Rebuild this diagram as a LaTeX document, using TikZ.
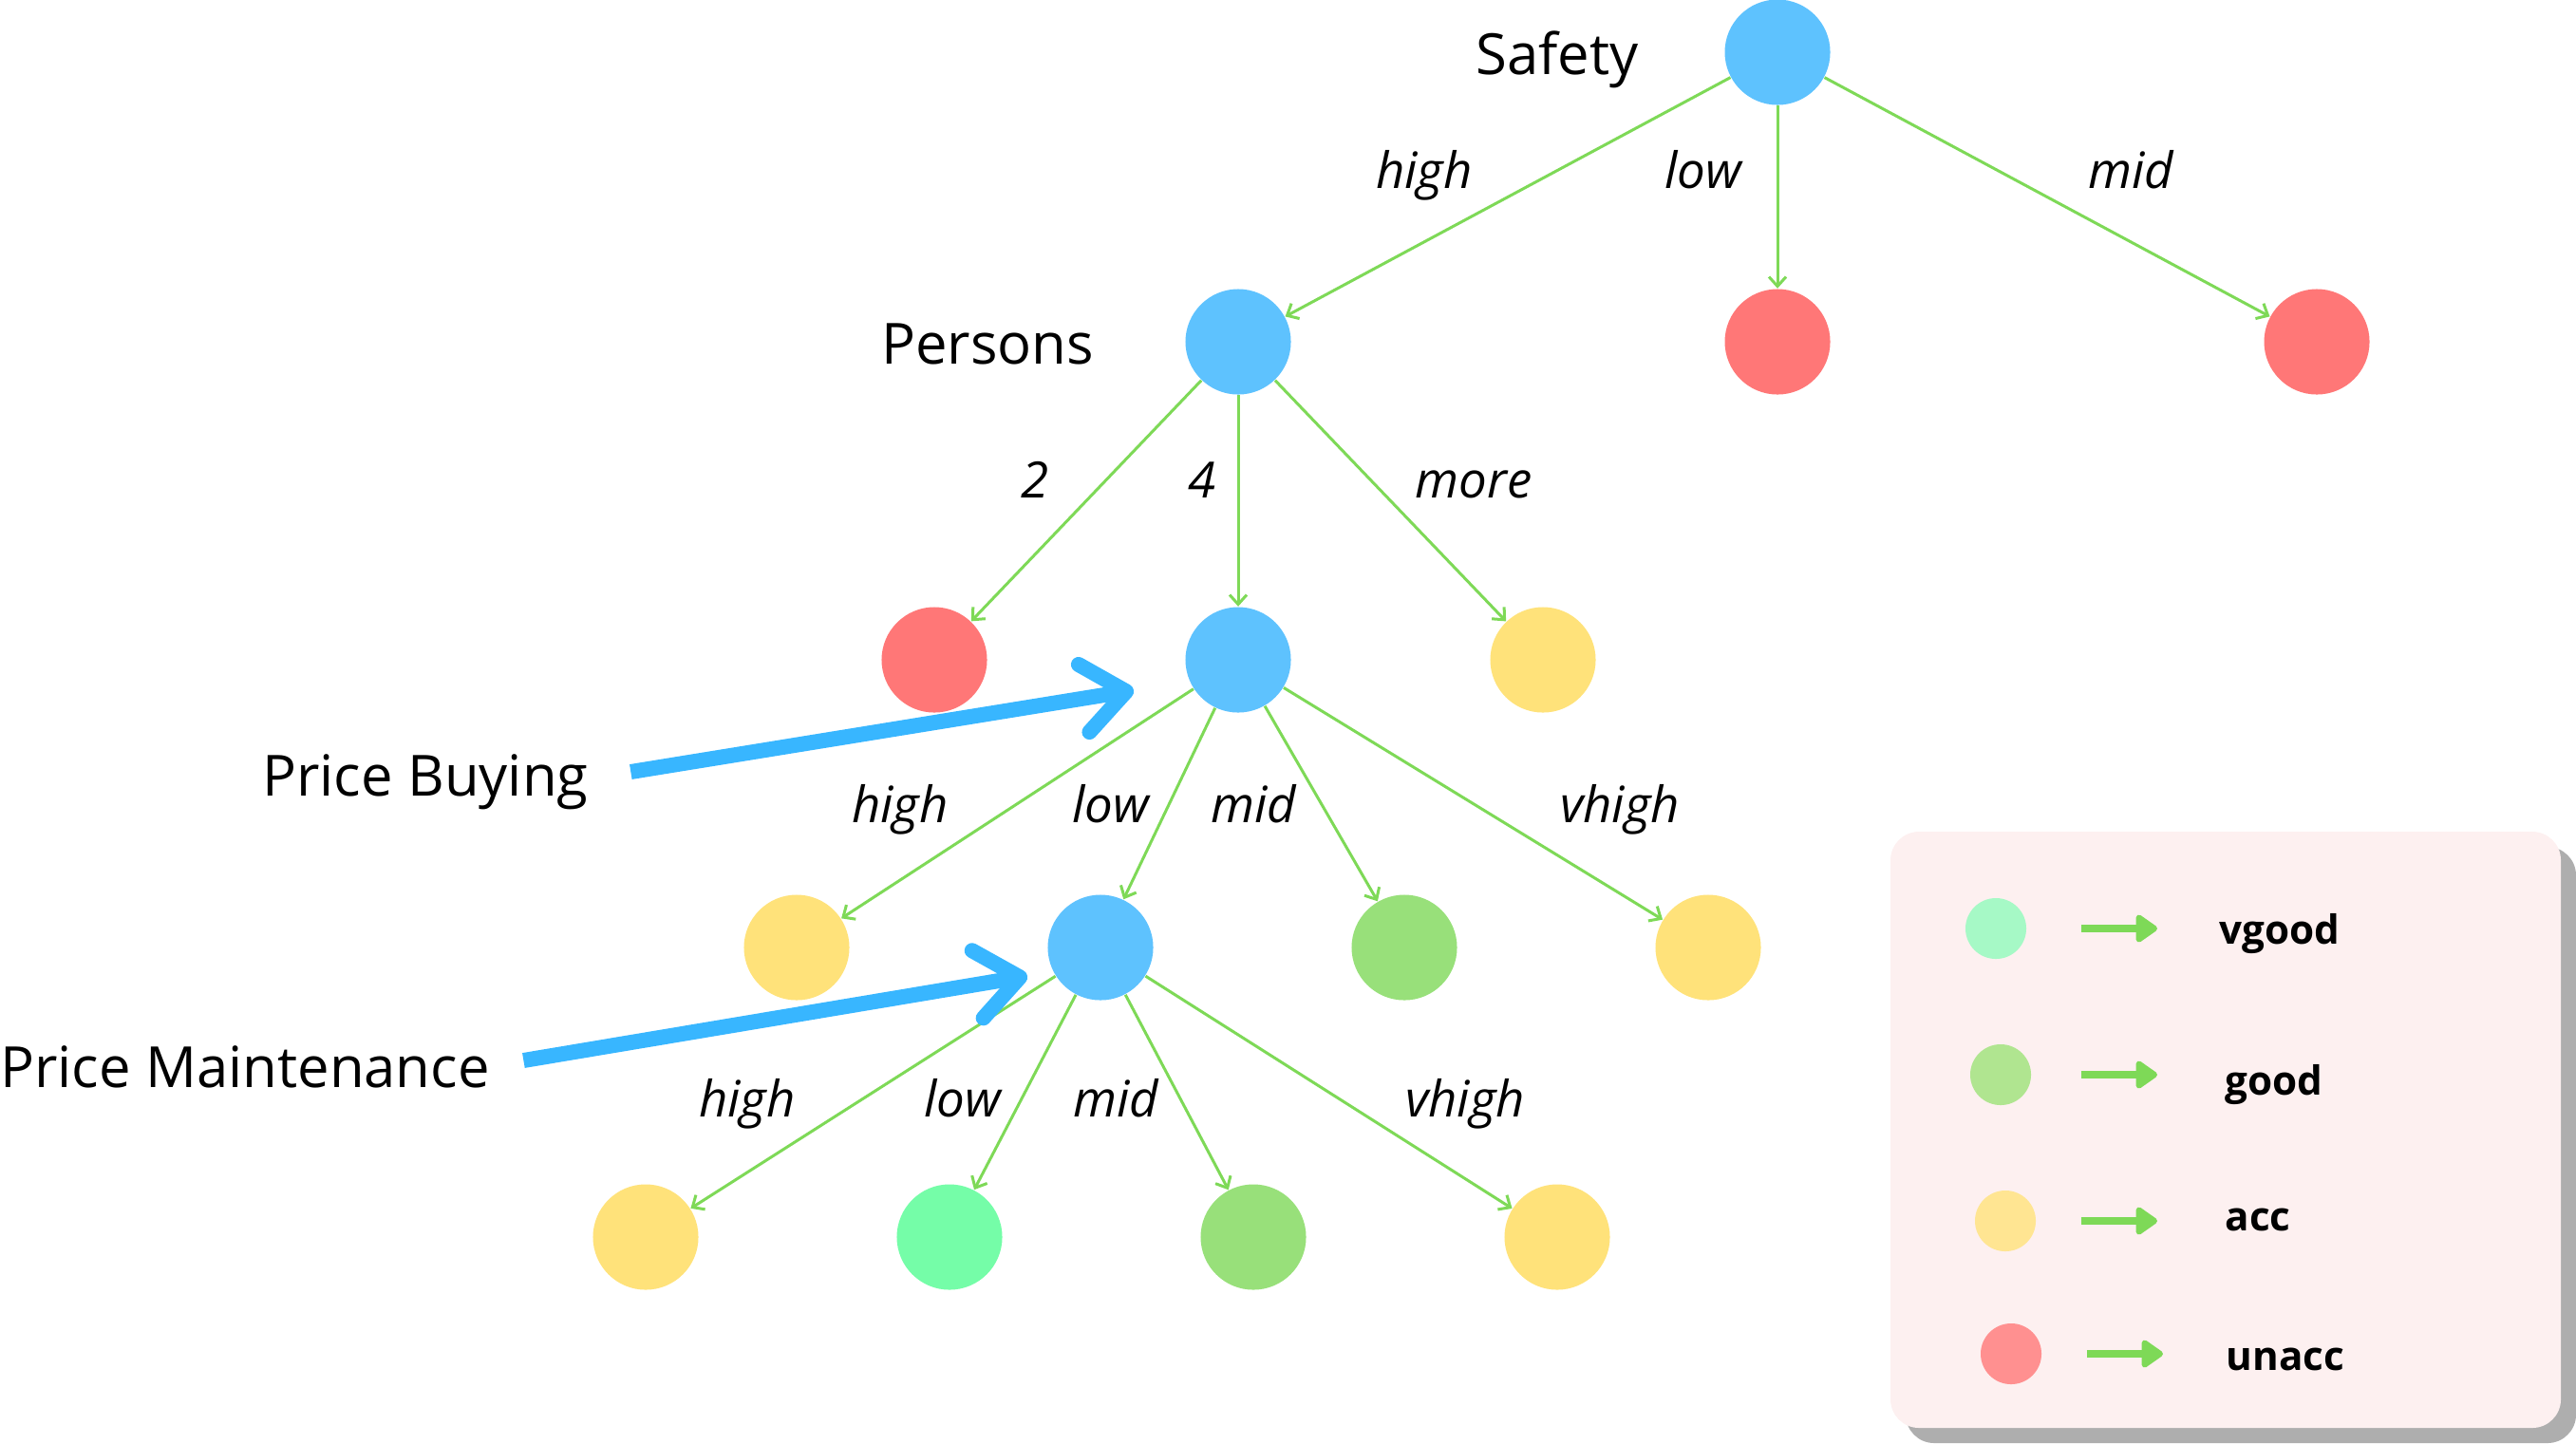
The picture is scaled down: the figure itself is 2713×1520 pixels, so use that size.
\documentclass[tikz,border=0pt]{standalone}
\usepackage{fontspec}
\setmainfont{Open Sans}
\usetikzlibrary{arrows.meta}

\definecolor{splitblue}{HTML}{5EC2FE}
\definecolor{unaccred}{HTML}{FF7777}
\definecolor{accyellow}{HTML}{FFE27A}
\definecolor{goodgreen}{HTML}{98E07A}
\definecolor{vgoodmint}{HTML}{75FDA8}
\definecolor{edgegreen}{HTML}{7ED957}
\definecolor{pointblue}{HTML}{38B6FF}
\definecolor{keyfill}{HTML}{FDF0F0}
\definecolor{keyshadow}{HTML}{AEAEAE}
\definecolor{keymint}{HTML}{A6F9C6}
\definecolor{keygreen}{HTML}{B0E590}
\definecolor{keyyellow}{HTML}{FFE592}
\definecolor{keyred}{HTML}{FF9090}

\begin{document}
\begin{tikzpicture}[x=0.01cm, y=-0.01cm,
    dot/.style={circle, minimum size=1.11cm, inner sep=0},
    branch/.style={draw=edgegreen, line width=0.03cm, -{Straight Barb[length=0.1cm, width=0.18cm]}},
    lbl/.style={anchor=base, font=\fontsize{15}{18}\selectfont\itshape},
    attr/.style={anchor=base, inner sep=0, font=\fontsize{17}{20}\selectfont},
    pointer/.style={draw=pointblue, line width=0.16cm, -{Straight Barb[length=0.45cm, width=0.72cm, round]}},
    keyarrow/.style={draw=edgegreen, line width=0.08cm, -{Triangle[length=0.25cm, width=0.33cm, round]}},
    keytext/.style={anchor=base west, inner sep=0, font=\fontsize{12}{14}\selectfont\bfseries}]
            \useasboundingbox (0,0) rectangle (2713,1520);

            % tree nodes
            \node[dot, fill=splitblue] (safety) at (1872, 55) {};
            \node[dot, fill=splitblue] (persons) at (1304, 360) {};
            \node[dot, fill=unaccred] (s-low) at (1872, 360) {};
            \node[dot, fill=unaccred] (s-mid) at (2440, 360) {};

            \node[dot, fill=unaccred] (p-two) at (984, 695) {};
            \node[dot, fill=splitblue] (buying) at (1304, 695) {};
            \node[dot, fill=accyellow] (p-more) at (1625, 695) {};

            \node[dot, fill=accyellow] (b-high) at (839, 998) {};
            \node[dot, fill=splitblue] (maint) at (1159, 998) {};
            \node[dot, fill=goodgreen] (b-mid) at (1479, 998) {};
            \node[dot, fill=accyellow] (b-vhigh) at (1799, 998) {};

            \node[dot, fill=accyellow] (m-high) at (680, 1303) {};
            \node[dot, fill=vgoodmint] (m-low) at (1000, 1303) {};
            \node[dot, fill=goodgreen] (m-mid) at (1320, 1303) {};
            \node[dot, fill=accyellow] (m-vhigh) at (1640, 1303) {};

            % attribute names
            \node[attr] (t-safety) at (1640, 78) {Safety};
            \node[attr] (t-persons) at (1040, 383) {Persons};
            \node[attr] (t-buying) at (448, 838) {Price Buying};
            \node[attr] (t-maint) at (258, 1145) {Price Maintenance};

            % branches
            \draw[branch] (safety) edge (persons);
            \draw[branch] (safety) edge (s-low);
            \draw[branch] (safety) edge (s-mid);
            \draw[branch] (persons) edge (p-two);
            \draw[branch] (persons) edge (buying);
            \draw[branch] (persons) edge (p-more);
            \draw[branch] (buying) edge (b-high);
            \draw[branch] (buying) edge (maint);
            \draw[branch] (buying) edge (b-mid);
            \draw[branch] (buying) edge (b-vhigh);
            \draw[branch] (maint) edge (m-high);
            \draw[branch] (maint) edge (m-low);
            \draw[branch] (maint) edge (m-mid);
            \draw[branch] (maint) edge (m-vhigh);

            % branch values
            \node[lbl] (l-s-high) at (1500, 198) {high};
            \node[lbl] (l-s-low) at (1794, 198) {low};
            \node[lbl] (l-s-mid) at (2244, 198) {mid};
            \node[lbl] (l-p-two) at (1090, 524) {2};
            \node[lbl] (l-p-four) at (1266, 524) {4};
            \node[lbl] (l-p-more) at (1552, 524) {more};
            \node[lbl] (l-b-high) at (948, 866) {high};
            \node[lbl] (l-b-low) at (1170, 866) {low};
            \node[lbl] (l-b-mid) at (1320, 866) {mid};
            \node[lbl] (l-b-vhigh) at (1706, 866) {vhigh};
            \node[lbl] (l-m-high) at (787, 1176) {high};
            \node[lbl] (l-m-low) at (1014, 1176) {low};
            \node[lbl] (l-m-mid) at (1175, 1176) {mid};
            \node[lbl] (l-m-vhigh) at (1543, 1176) {vhigh};

            % pointers
            \coordinate (buying-tip) at (1194, 727);
            \coordinate (maint-tip) at (1082, 1028);
            \draw[pointer] ([xshift=0.44cm, yshift=0.25cm]t-buying.base east) -- (buying-tip);
            \draw[pointer] ([xshift=0.35cm, yshift=0.28cm]t-maint.base east) -- (maint-tip);

            % key
            \fill[keyshadow, rounded corners=0.3cm] (2007, 892) rectangle (2713, 1520);
            \fill[keyfill, rounded corners=0.3cm] (1991, 876) rectangle (2697, 1504);

            \node[dot, minimum size=0.64cm, fill=keymint] (k-vgood) at (2102, 978) {};
            \node[dot, minimum size=0.64cm, fill=keygreen] (k-good) at (2107, 1132) {};
            \node[dot, minimum size=0.64cm, fill=keyyellow] (k-acc) at (2112, 1286) {};
            \node[dot, minimum size=0.64cm, fill=keyred] (k-unacc) at (2118, 1426) {};

            \node[keytext] (kt-vgood) at (2337, 994) {vgood};
            \node[keytext] (kt-good) at (2343, 1153) {good};
            \node[keytext] (kt-acc) at (2343, 1296) {acc};
            \node[keytext] (kt-unacc) at (2344, 1443) {unacc};

            \draw[keyarrow, shorten <=0.57cm, shorten >=0.65cm] (k-vgood) -- (k-vgood -| kt-vgood.west);
            \draw[keyarrow, shorten <=0.52cm, shorten >=0.71cm] (k-good) -- (k-good -| kt-good.west);
            \draw[keyarrow, shorten <=0.47cm, shorten >=0.71cm] (k-acc) -- (k-acc -| kt-acc.west);
            \draw[keyarrow, shorten <=0.47cm, shorten >=0.66cm] (k-unacc) -- (k-unacc -| kt-unacc.west);
        \end{tikzpicture}
\end{document}
